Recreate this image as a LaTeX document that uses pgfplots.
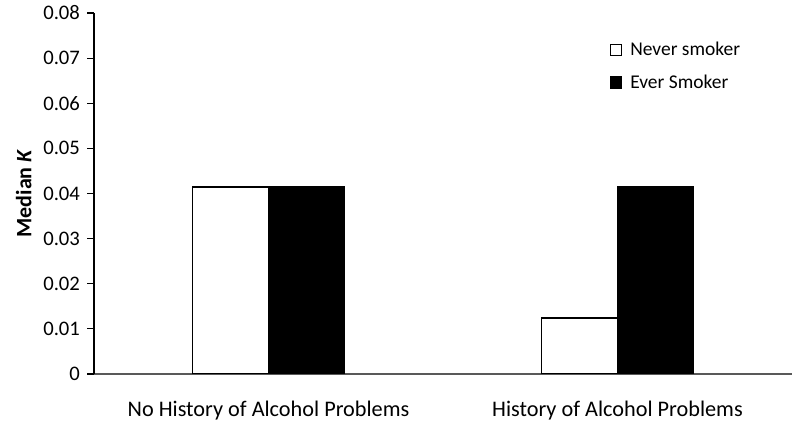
\documentclass[border=0pt]{standalone}
\usepackage{pgfplots}
\pgfplotsset{compat=1.18}
\usepackage{fontspec}
\setmainfont{Carlito}

\begin{document}
\begin{tikzpicture}
\begin{axis}[scale only axis,width=523.5pt,height=270.75pt,
	ybar,bar width=0.218,
	xmin=-0.5,xmax=1.5,ymin=0,ymax=0.08,
	axis x line=bottom,axis y line=left,
	x axis line style={-,draw=black!65,line width=1.1pt},
	y axis line style={-,black,line width=0.9pt},
	xtick={0,1},xticklabels={No History of Alcohol Problems,History of Alcohol Problems},
	x tick label style={font=\fontsize{16.7}{19}\selectfont,yshift=-12pt},
	major x tick style={draw=none},
	scaled y ticks=false,
	ytick={0,0.01,0.02,0.03,0.04,0.05,0.06,0.07,0.08},
	yticklabels={0,0.01,0.02,0.03,0.04,0.05,0.06,0.07,0.08},
	y tick label style={font=\fontsize{15.5}{17}\selectfont,xshift=-2pt},
	tick align=outside,major tick length=5pt,
	ytick style={black,line width=0.8pt},
	ylabel={\textbf{Median \textit{K}}},
	ylabel style={font=\fontsize{16.5}{19}\selectfont,yshift=2pt},
	legend style={draw=none,fill=none,at={(0.733,0.935)},anchor=north west,
		font=\fontsize{14.6}{17}\selectfont,row sep=9pt,
		/tikz/every even column/.append style={column sep=2pt}},
	legend cell align=left,
	legend image code/.code={\draw[#1,line width=0.9pt] (0pt,-4.2pt) rectangle (8.4pt,4.2pt);},
	]
\addplot[draw=black,fill=white,line width=1.2pt,bar shift=-0.109] coordinates {(0,0.0415) (1,0.0124)};
\addlegendentry{\hspace{4pt}Never smoker}
\addplot[draw=black,fill=black,line width=1.2pt,bar shift=0.109] coordinates {(0,0.0415) (1,0.0415)};
\addlegendentry{\hspace{4pt}Ever Smoker}
\end{axis}
\pgfresetboundingbox
\path (current axis.south west) ++(-70.5pt,-40.5pt) coordinate (bl);
\path (current axis.north east) ++(6pt,9.75pt) coordinate (tr);
\useasboundingbox (bl) rectangle (tr);
\end{tikzpicture}
\end{document}
